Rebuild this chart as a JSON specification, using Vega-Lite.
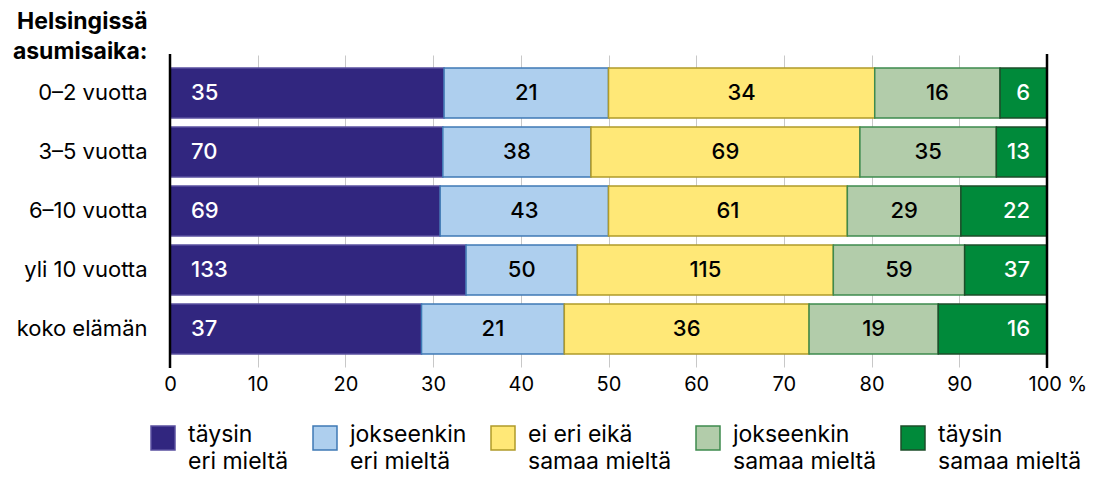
{
  "$schema": "https://vega.github.io/schema/vega-lite/v6.json",
  "width": 877,
  "height": 312,
  "autosize": {"type": "none"},
  "padding": {"left": 170, "top": 55, "right": 46, "bottom": 112},
  "background": "white",
  "config": {
    "font": "Inter",
    "view": {"stroke": null}
  },
  "data": {
    "values": [
      {"aika": "0–2 vuotta", "cat": "täysin eri mieltä", "k": 0, "n": 35},
      {"aika": "0–2 vuotta", "cat": "jokseenkin eri mieltä", "k": 1, "n": 21},
      {"aika": "0–2 vuotta", "cat": "ei eri eikä samaa mieltä", "k": 2, "n": 34},
      {"aika": "0–2 vuotta", "cat": "jokseenkin samaa mieltä", "k": 3, "n": 16},
      {"aika": "0–2 vuotta", "cat": "täysin samaa mieltä", "k": 4, "n": 6},
      {"aika": "3–5 vuotta", "cat": "täysin eri mieltä", "k": 0, "n": 70},
      {"aika": "3–5 vuotta", "cat": "jokseenkin eri mieltä", "k": 1, "n": 38},
      {"aika": "3–5 vuotta", "cat": "ei eri eikä samaa mieltä", "k": 2, "n": 69},
      {"aika": "3–5 vuotta", "cat": "jokseenkin samaa mieltä", "k": 3, "n": 35},
      {"aika": "3–5 vuotta", "cat": "täysin samaa mieltä", "k": 4, "n": 13},
      {"aika": "6–10 vuotta", "cat": "täysin eri mieltä", "k": 0, "n": 69},
      {"aika": "6–10 vuotta", "cat": "jokseenkin eri mieltä", "k": 1, "n": 43},
      {"aika": "6–10 vuotta", "cat": "ei eri eikä samaa mieltä", "k": 2, "n": 61},
      {"aika": "6–10 vuotta", "cat": "jokseenkin samaa mieltä", "k": 3, "n": 29},
      {"aika": "6–10 vuotta", "cat": "täysin samaa mieltä", "k": 4, "n": 22},
      {"aika": "yli 10 vuotta", "cat": "täysin eri mieltä", "k": 0, "n": 133},
      {"aika": "yli 10 vuotta", "cat": "jokseenkin eri mieltä", "k": 1, "n": 50},
      {"aika": "yli 10 vuotta", "cat": "ei eri eikä samaa mieltä", "k": 2, "n": 115},
      {"aika": "yli 10 vuotta", "cat": "jokseenkin samaa mieltä", "k": 3, "n": 59},
      {"aika": "yli 10 vuotta", "cat": "täysin samaa mieltä", "k": 4, "n": 37},
      {"aika": "koko elämän", "cat": "täysin eri mieltä", "k": 0, "n": 37},
      {"aika": "koko elämän", "cat": "jokseenkin eri mieltä", "k": 1, "n": 21},
      {"aika": "koko elämän", "cat": "ei eri eikä samaa mieltä", "k": 2, "n": 36},
      {"aika": "koko elämän", "cat": "jokseenkin samaa mieltä", "k": 3, "n": 19},
      {"aika": "koko elämän", "cat": "täysin samaa mieltä", "k": 4, "n": 16}
    ]
  },
  "transform": [
    {"stack": "n", "groupby": ["aika"], "sort": [{"field": "k", "order": "ascending"}], "offset": "normalize", "as": ["x0", "x1"]},
    {"calculate": "(datum.x0 + datum.x1) / 2", "as": "xm"}
  ],
  "encoding": {
    "y": {
      "field": "aika",
      "type": "nominal",
      "sort": ["0–2 vuotta", "3–5 vuotta", "6–10 vuotta", "yli 10 vuotta", "koko elämän"],
      "scale": {"paddingInner": 0.15, "paddingOuter": 0.22},
      "axis": {
        "title": ["Helsingissä", "asumisaika:"],
        "titleAngle": 0,
        "titleAlign": "right",
        "titleBaseline": "alphabetic",
        "titleX": -23,
        "titleY": -27,
        "titleFontSize": 23,
        "titleFontWeight": "bold",
        "titleLineHeight": 30,
        "titleColor": "black",
        "labelFontSize": 22,
        "labelColor": "black",
        "labelPadding": 23,
        "domain": false,
        "ticks": false,
        "grid": false
      }
    }
  },
  "layer": [
    {
      "mark": {"type": "bar", "strokeWidth": 1.5},
      "encoding": {
        "x": {
          "field": "x0",
          "type": "quantitative",
          "scale": {"domain": [0, 1]},
          "axis": {
            "title": null,
            "values": [0, 0.1, 0.2, 0.3, 0.4, 0.5, 0.6, 0.7, 0.8, 0.9, 1],
            "labelExpr": "datum.value == 1 ? '100 %' : format(datum.value * 100, 'd')",
            "labelAlign": {"condition": {"test": "datum.value == 1", "value": "left"}, "value": "center"},
            "labelOffset": {"condition": {"test": "datum.value == 1", "value": -19}, "value": 0},
            "labelFontSize": 20,
            "labelColor": "black",
            "labelPadding": 7,
            "domain": false,
            "ticks": false,
            "grid": true,
            "gridColor": "#c8c8c8",
            "gridWidth": 1
          }
        },
        "x2": {"field": "x1"},
        "fill": {
          "field": "cat",
          "type": "nominal",
          "sort": ["täysin eri mieltä", "jokseenkin eri mieltä", "ei eri eikä samaa mieltä", "jokseenkin samaa mieltä", "täysin samaa mieltä"],
          "scale": {
            "domain": ["täysin eri mieltä", "jokseenkin eri mieltä", "ei eri eikä samaa mieltä", "jokseenkin samaa mieltä", "täysin samaa mieltä"],
            "range": ["#31267f", "#aecfee", "#ffe877", "#b2ccaa", "#008a3a"]
          },
          "legend": {
            "title": null,
            "orient": "none",
            "legendX": -20,
            "legendY": 370,
            "direction": "horizontal",
            "symbolType": "square",
            "symbolSize": 576,
            "symbolStrokeWidth": 1.5,
            "symbolOpacity": 1,
            "labelFontSize": 23,
            "labelColor": "black",
            "labelLimit": 0,
            "labelBaseline": "top",
            "labelOffset": 12,
            "columnPadding": 21,
            "labelExpr": "[replace(datum.label, regexp(' (eri|samaa) mieltä$'), ''), indexof(datum.label, 'samaa') >= 0 ? 'samaa mieltä' : 'eri mieltä']",
            "encode": {"labels": {"update": {"dy": {"value": -14}, "lineHeight": {"value": 27}}}}
          }
        },
        "stroke": {
          "field": "cat",
          "type": "nominal",
          "sort": ["täysin eri mieltä", "jokseenkin eri mieltä", "ei eri eikä samaa mieltä", "jokseenkin samaa mieltä", "täysin samaa mieltä"],
          "scale": {
            "domain": ["täysin eri mieltä", "jokseenkin eri mieltä", "ei eri eikä samaa mieltä", "jokseenkin samaa mieltä", "täysin samaa mieltä"],
            "range": ["#5a50a0", "#3f7ab5", "#b09a2a", "#3e8a4e", "#1d4d2a"]
          }
        }
      }
    },
    {
      "transform": [{"filter": "datum.k == 0"}],
      "mark": {"type": "text", "align": "left", "dx": 21, "fontSize": 22, "fontWeight": 500, "color": "white"},
      "encoding": {
        "x": {"field": "x0", "type": "quantitative"},
        "text": {"field": "n", "type": "quantitative"}
      }
    },
    {
      "transform": [{"filter": "datum.k > 0 && datum.k < 4"}],
      "mark": {"type": "text", "align": "center", "fontSize": 22, "fontWeight": 500, "color": "black"},
      "encoding": {
        "x": {"field": "xm", "type": "quantitative"},
        "text": {"field": "n", "type": "quantitative"}
      }
    },
    {
      "transform": [{"filter": "datum.k == 4"}],
      "mark": {"type": "text", "align": "right", "dx": -17, "fontSize": 22, "fontWeight": 500, "color": "white"},
      "encoding": {
        "x": {"field": "x1", "type": "quantitative"},
        "text": {"field": "n", "type": "quantitative"}
      }
    },
    {
      "data": {"values": [{"p": 0}, {"p": 1}]},
      "mark": {"type": "rule", "color": "black", "strokeWidth": 2.5},
      "encoding": {
        "x": {"field": "p", "type": "quantitative"},
        "y": {"value": -1},
        "y2": {"value": 313}
      }
    }
  ]
}
